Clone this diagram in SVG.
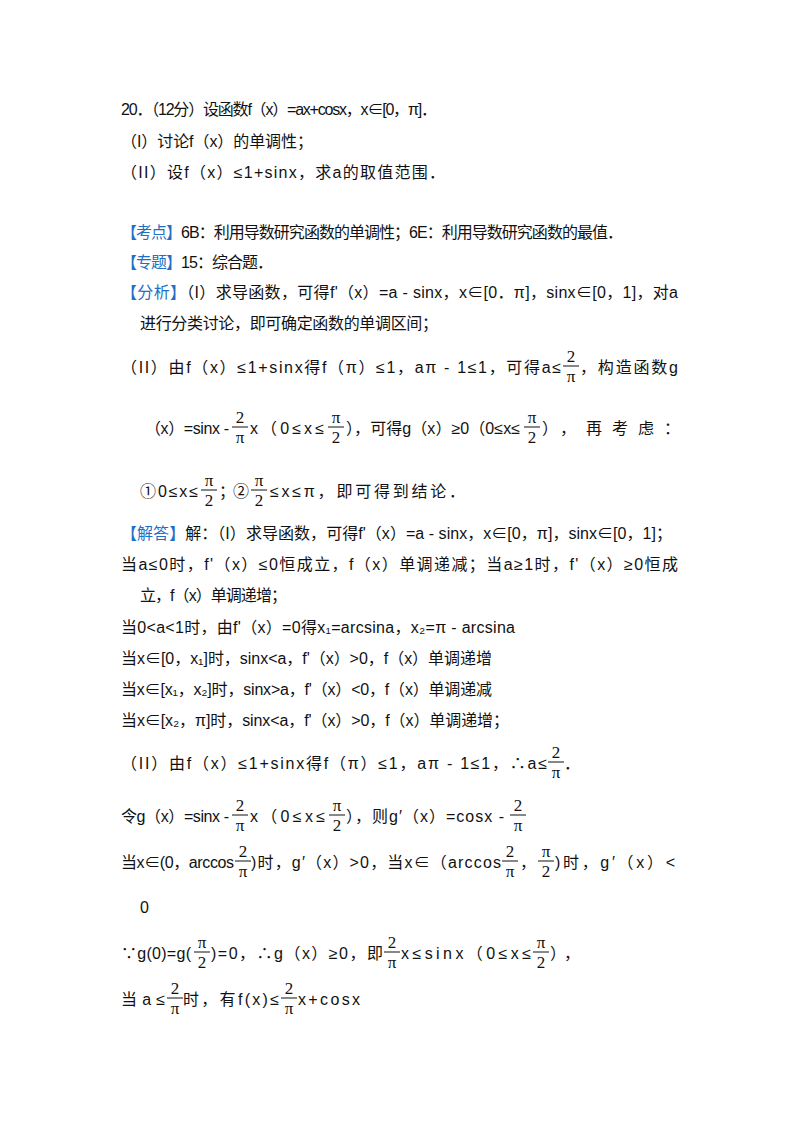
<svg xmlns="http://www.w3.org/2000/svg" width="800" height="1133" viewBox="0 0 800 1133">
<style>
text{font-family:"Liberation Sans","Noto Sans CJK SC",sans-serif;font-size:16px;fill:#111}
.b{fill:#1f6fc5}
.f{font-family:"Liberation Serif","Noto Sans CJK SC",serif;font-size:17px;text-anchor:middle}
line{stroke:#111;stroke-width:1}
</style>
<rect width="800" height="1133" fill="#fff"/>
<g id="text">
<text x="121" y="115" textLength="316" lengthAdjust="spacing">20．（12分）设函数f（x）=ax+cosx，x∈[0，π]．</text>
<text x="121" y="147" textLength="192" lengthAdjust="spacing">（I）讨论f（x）的单调性；</text>
<text x="121" y="178" textLength="324" lengthAdjust="spacing">（II）设f（x）≤1+sinx，求a的取值范围．</text>
<text x="121" y="238" textLength="502" lengthAdjust="spacing"><tspan class="b">【考点】</tspan>6B：利用导数研究函数的单调性；6E：利用导数研究函数的最值．</text>
<text x="121" y="268" textLength="152" lengthAdjust="spacing"><tspan class="b">【专题】</tspan>15：综合题．</text>
<text x="121" y="298" textLength="557" lengthAdjust="spacing"><tspan class="b">【分析】</tspan>（I）求导函数，可得f'（x）=a - sinx，x∈[0．π]，sinx∈[0，1]，对a</text>
<text x="140" y="329" textLength="298" lengthAdjust="spacing">进行分类讨论，即可确定函数的单调区间；</text>
<text x="121" y="373" textLength="440" lengthAdjust="spacing">（II）由f（x）≤1+sinx得f（π）≤1，aπ - 1≤1，可得a≤</text>
<text x="580" y="373" textLength="98" lengthAdjust="spacing">，构造函数g</text>
<text x="145" y="434" textLength="84" lengthAdjust="spacing">（x）=sinx - </text>
<text x="250" y="434" textLength="74" lengthAdjust="spacing">x（0≤x≤</text>
<text x="346" y="434" textLength="174" lengthAdjust="spacing">），可得g（x）≥0（0≤x≤</text>
<text x="542" y="434" textLength="138" lengthAdjust="spacing">），再考虑：</text>
<text x="140" y="497" textLength="58" lengthAdjust="spacing">①0≤x≤</text>
<text x="219" y="497" textLength="30" lengthAdjust="spacing">；②</text>
<text x="270" y="497" textLength="195" lengthAdjust="spacing">≤x≤π，即可得到结论．</text>
<text x="121" y="539" textLength="551" lengthAdjust="spacing"><tspan class="b">【解答】</tspan>解：（I）求导函数，可得f'（x）=a - sinx，x∈[0，π]，sinx∈[0，1]；</text>
<text x="121" y="570" textLength="557" lengthAdjust="spacing">当a≤0时，f'（x）≤0恒成立，f（x）单调递减；当a≥1时，f'（x）≥0恒成</text>
<text x="140" y="601" textLength="147" lengthAdjust="spacing">立，f（x）单调递增；</text>
<text x="121" y="633" textLength="394" lengthAdjust="spacing">当0&lt;a&lt;1时，由f'（x）=0得x₁=arcsina，x₂=π - arcsina</text>
<text x="121" y="664" textLength="371" lengthAdjust="spacing">当x∈[0，x₁]时，sinx&lt;a，f'（x）&gt;0，f（x）单调递增</text>
<text x="121" y="695" textLength="371" lengthAdjust="spacing">当x∈[x₁，x₂]时，sinx&gt;a，f'（x）&lt;0，f（x）单调递减</text>
<text x="121" y="726" textLength="388" lengthAdjust="spacing">当x∈[x₂，π]时，sinx&lt;a，f'（x）&gt;0，f（x）单调递增；</text>
<text x="121" y="769" textLength="426" lengthAdjust="spacing">（II）由f（x）≤1+sinx得f（π）≤1，aπ - 1≤1，∴a≤</text>
<text x="564" y="769">．</text>
<text x="121" y="822" textLength="108" lengthAdjust="spacing">令g（x）=sinx - </text>
<text x="250" y="822" textLength="75" lengthAdjust="spacing">x（0≤x≤</text>
<text x="346" y="822" textLength="158" lengthAdjust="spacing">），则g′（x）=cosx - </text>
<text x="121" y="868" textLength="113" lengthAdjust="spacing">当x∈(0，arccos</text>
<text x="251" y="868" textLength="250" lengthAdjust="spacing">)时，g′（x）&gt;0，当x∈（arccos</text>
<text x="520" y="868">，</text>
<text x="555" y="868" textLength="120" lengthAdjust="spacing">)时，g′（x）&lt;</text>
<text x="140" y="913">0</text>
<text x="121" y="959" textLength="70" lengthAdjust="spacing">∵g(0)=g(</text>
<text x="211" y="959" textLength="172" lengthAdjust="spacing">)=0，∴g（x）≥0，即</text>
<text x="401" y="959" textLength="130" lengthAdjust="spacing">x≤sinx（0≤x≤</text>
<text x="550" y="959" textLength="30" lengthAdjust="spacing">），</text>
<text x="121" y="1005" textLength="44" lengthAdjust="spacing">当a≤</text>
<text x="183" y="1005" textLength="96" lengthAdjust="spacing">时，有f(x)≤</text>
<text x="298" y="1005" textLength="62" lengthAdjust="spacing">x+cosx</text>
</g>
<g id="fractions">
<text class="f" x="571" y="362">2</text><line x1="563" y1="366" x2="579" y2="366"/><text class="f" x="571" y="382">π</text>
<text class="f" x="240" y="423">2</text><line x1="232" y1="427" x2="248" y2="427"/><text class="f" x="240" y="443">π</text>
<text class="f" x="336" y="423">π</text><line x1="328" y1="427" x2="344" y2="427"/><text class="f" x="336" y="443">2</text>
<text class="f" x="532" y="423">π</text><line x1="524" y1="427" x2="540" y2="427"/><text class="f" x="532" y="443">2</text>
<text class="f" x="209" y="486">π</text><line x1="201" y1="490" x2="217" y2="490"/><text class="f" x="209" y="506">2</text>
<text class="f" x="259" y="486">π</text><line x1="251" y1="490" x2="267" y2="490"/><text class="f" x="259" y="506">2</text>
<text class="f" x="556" y="758">2</text><line x1="548" y1="762" x2="564" y2="762"/><text class="f" x="556" y="778">π</text>
<text class="f" x="240" y="811">2</text><line x1="232" y1="815" x2="248" y2="815"/><text class="f" x="240" y="831">π</text>
<text class="f" x="337" y="811">π</text><line x1="329" y1="815" x2="345" y2="815"/><text class="f" x="337" y="831">2</text>
<text class="f" x="518" y="811">2</text><line x1="510" y1="815" x2="526" y2="815"/><text class="f" x="518" y="831">π</text>
<text class="f" x="243" y="857">2</text><line x1="235" y1="861" x2="251" y2="861"/><text class="f" x="243" y="877">π</text>
<text class="f" x="510" y="857">2</text><line x1="502" y1="861" x2="518" y2="861"/><text class="f" x="510" y="877">π</text>
<text class="f" x="546" y="857">π</text><line x1="538" y1="861" x2="554" y2="861"/><text class="f" x="546" y="877">2</text>
<text class="f" x="202" y="948">π</text><line x1="194" y1="952" x2="210" y2="952"/><text class="f" x="202" y="968">2</text>
<text class="f" x="392" y="948">2</text><line x1="384" y1="952" x2="400" y2="952"/><text class="f" x="392" y="968">π</text>
<text class="f" x="541" y="948">π</text><line x1="533" y1="952" x2="549" y2="952"/><text class="f" x="541" y="968">2</text>
<text class="f" x="175" y="994">2</text><line x1="167" y1="998" x2="183" y2="998"/><text class="f" x="175" y="1014">π</text>
<text class="f" x="289" y="994">2</text><line x1="281" y1="998" x2="297" y2="998"/><text class="f" x="289" y="1014">π</text>
</g>
</svg>
